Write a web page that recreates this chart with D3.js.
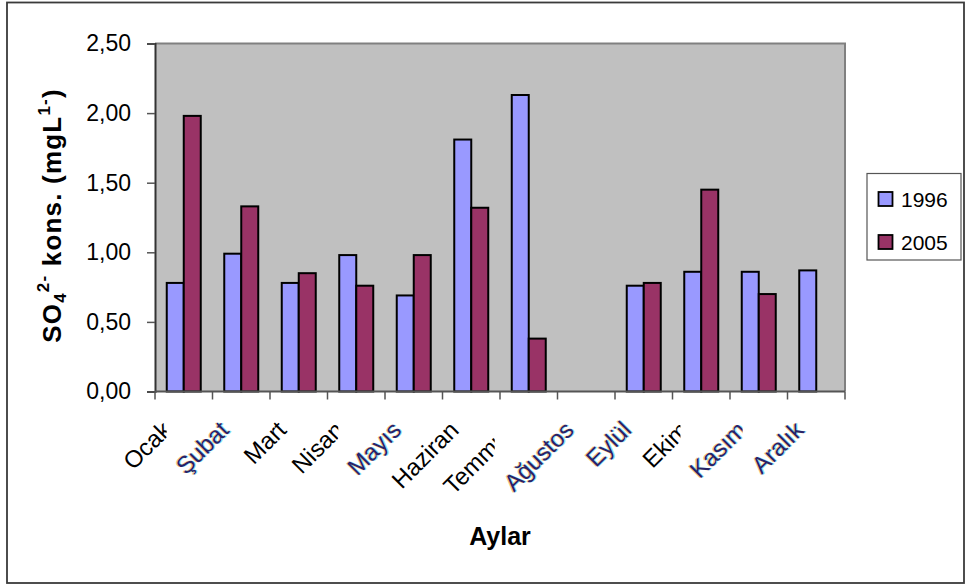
<!DOCTYPE html>
<html>
<head>
<meta charset="utf-8">
<script src="https://cdn.jsdelivr.net/npm/d3@7"></script>
<style>
  html, body { margin: 0; padding: 0; background: #fff; }
  svg { display: block; font-family: "Liberation Sans", Arial, sans-serif; }
</style>
</head>
<body>
<svg id="chart" width="966" height="587"></svg>
<script>
// Monthly sulfate concentrations (mg/L), two sampling years
const months = ["Ocak", "Şubat", "Mart", "Nisan", "Mayıs", "Haziran", "Temmuz", "Ağustos", "Eylül", "Ekim", "Kasım", "Aralık"];
const years = ["1996", "2005"];
const values1996 = [0.78, 0.99, 0.78, 0.98, 0.69, 1.81, 2.13, null, 0.76, 0.86, 0.86, 0.87];
const values2005 = [1.98, 1.33, 0.85, 0.76, 0.98, 1.32, 0.38, null, 0.78, 1.45, 0.70, null];
const yTicks = [0, 0.5, 1.0, 1.5, 2.0, 2.5];
// month names typeset separately (with an opaque backing) in the original layout
const patchedLabels = ["Şubat", "Mayıs", "Ağustos", "Eylül", "Kasım", "Aralık"];

const seriesColors = { "1996": "#9999ff", "2005": "#993366" };

const svg = d3.select("#chart");
const plot = { left: 155, right: 845, top: 43.5, bottom: 391.5 };

// outer chart frame
svg.append("rect")
  .attr("x", 7).attr("y", 2.5).attr("width", 957).attr("height", 580.5)
  .attr("fill", "#fff").attr("stroke", "#3a3a3a").attr("stroke-width", 1.8);

const x = d3.scaleBand().domain(months).range([plot.left, plot.right]);
const y = d3.scaleLinear().domain([0, 2.5]).range([plot.bottom, plot.top]);
const groupW = x.bandwidth() * 34 / 57.5;
const xs = d3.scaleBand().domain(years).range([0, groupW]);
const xOffset = (x.bandwidth() - groupW) / 2;

// plot area background + grey top/right border
svg.append("rect")
  .attr("x", plot.left).attr("y", plot.top)
  .attr("width", plot.right - plot.left).attr("height", plot.bottom - plot.top)
  .attr("fill", "#c0c0c0");
svg.append("path")
  .attr("d", `M${plot.left},${plot.top}H${plot.right}V${plot.bottom}`)
  .attr("fill", "none").attr("stroke", "#808080").attr("stroke-width", 2);

// bars
const rows = [];
months.forEach((m, i) => {
  rows.push({ month: m, year: "1996", v: values1996[i] });
  rows.push({ month: m, year: "2005", v: values2005[i] });
});
svg.append("g").selectAll("rect")
  .data(rows.filter(d => d.v != null))
  .join("rect")
  .attr("x", d => x(d.month) + xOffset + xs(d.year))
  .attr("y", d => y(d.v))
  .attr("width", xs.bandwidth())
  .attr("height", d => y(0) - y(d.v))
  .attr("fill", d => seriesColors[d.year])
  .attr("stroke", "#000").attr("stroke-width", 2);

// y axis
const yAxis = svg.append("g")
  .attr("transform", `translate(${plot.left},0)`)
  .call(d3.axisLeft(y).tickValues(yTicks).tickSize(8).tickPadding(16)
    .tickFormat(d => d3.format(".2f")(d).replace(".", ",")));
yAxis.select(".domain").attr("stroke", "#333").attr("stroke-width", 2);
yAxis.selectAll(".tick line").attr("stroke", "#555").attr("stroke-width", 1.5);
yAxis.selectAll(".tick text").attr("font-size", 23).attr("fill", "#000")
  .attr("font-family", "Liberation Sans, Arial, sans-serif");

// x axis (ticks at category boundaries)
const boundaries = months.map(m => x(m)).concat([plot.right]);
const xAxis = svg.append("g").attr("transform", `translate(0,${plot.bottom})`);
xAxis.append("line").attr("x1", plot.left).attr("x2", plot.right)
  .attr("stroke", "#555").attr("stroke-width", 2);
xAxis.selectAll("line.tk").data(boundaries).join("line").attr("class", "tk")
  .attr("x1", d => d).attr("x2", d => d).attr("y1", 0).attr("y2", 8)
  .attr("stroke", "#555").attr("stroke-width", 1.5);

// category labels, rotated 45°, anchored at their end below the category centre
const labelLayer = svg.append("g");
const labelY = plot.bottom + 40;
const labelSize = 24;
const anchorX = m => x(m) + x.bandwidth() / 2 - 11;
function addLabel(parent, m, dx, fill, opacity) {
  return parent.append("g")
    .attr("transform", `translate(${anchorX(m) + dx},${labelY})`)
    .append("text")
    .attr("transform", "rotate(-45)")
    .attr("text-anchor", "end")
    .attr("font-size", labelSize)
    .attr("fill", fill)
    .attr("opacity", opacity)
    .text(m);
}
months.filter(m => !patchedLabels.includes(m)).forEach(m => {
  addLabel(labelLayer, m, 0, "#000", 1);
});
// white backing behind the glyphs: straight left/top edges that hide the tail
// of the preceding label, lower edge following the slanted baseline
months.filter(m => patchedLabels.includes(m)).forEach(m => {
  const g = labelLayer.append("g");
  const bg = g.append("path").attr("fill", "#fff");
  addLabel(g, m, -1.1, "#f5b860", 0.8);
  addLabel(g, m, 1.1, "#6fdcf5", 0.8);
  const t = addLabel(g, m, 0, "#2a2366", 1);
  const L = t.node().getComputedTextLength();
  const cap = 0.72 * labelSize, desc = 0.2 * labelSize, k = Math.SQRT1_2;
  const ax = anchorX(m);
  const minX = ax - k * (L + cap) - 7, maxX = ax + k * desc + 1;
  const minY = labelY - k * cap - 7;
  const pts = [
    [minX, minY],
    [maxX, minY],
    [maxX, labelY + k * desc + 1],
    [ax + k * (desc - L), labelY + k * (L + desc) + 1],
    [minX, labelY + k * (L + desc) + 1]
  ];
  bg.attr("d", d3.line()(pts) + "Z");
});

// axis titles
svg.append("text")
  .attr("x", (plot.left + plot.right) / 2).attr("y", 545)
  .attr("text-anchor", "middle").attr("font-size", 25).attr("font-weight", "bold")
  .text("Aylar");

const yTitle = svg.append("text")
  .attr("transform", `translate(61,${(plot.top + plot.bottom) / 2 - 2}) rotate(-90)`)
  .attr("text-anchor", "middle").attr("font-size", 26).attr("font-weight", "bold")
  .attr("letter-spacing", 1.2);
yTitle.append("tspan").text("SO");
yTitle.append("tspan").attr("font-size", 17).attr("dy", 5).text("4");
yTitle.append("tspan").attr("font-size", 17).attr("dy", -17).text("2-");
yTitle.append("tspan").attr("dy", 12).text(" kons. (mgL");
yTitle.append("tspan").attr("font-size", 17).attr("dy", -11).text("1-");
yTitle.append("tspan").attr("dy", 11).text(")");

// legend
const legend = svg.append("g");
legend.append("rect").attr("x", 867).attr("y", 173.5).attr("width", 94).attr("height", 86.5)
  .attr("fill", "#fff").attr("stroke", "#555").attr("stroke-width", 1.2);
const ly = d3.scalePoint().domain(years).range([199, 242]);
years.forEach(yr => {
  legend.append("rect").attr("x", 878.5).attr("y", ly(yr) - 7).attr("width", 14).attr("height", 14)
    .attr("fill", seriesColors[yr]).attr("stroke", "#000").attr("stroke-width", 1.8);
  legend.append("text").attr("x", 901).attr("y", ly(yr) + 8)
    .attr("font-size", 21).text(yr);
});
</script>
</body>
</html>
